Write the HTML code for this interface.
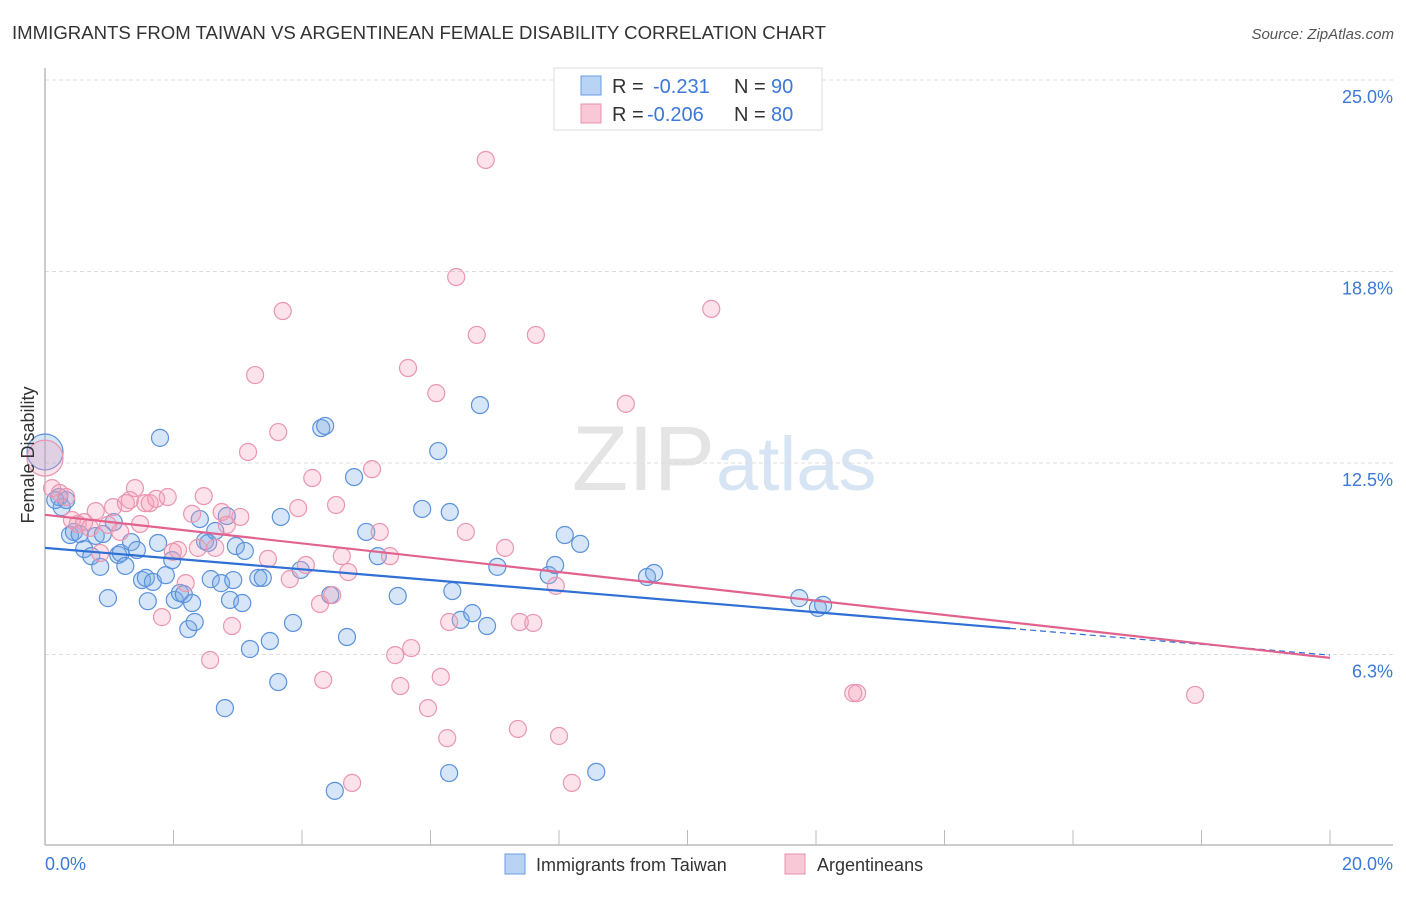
<!DOCTYPE html>
<html><head><meta charset="utf-8"><style>
body{margin:0;background:#fff;font-family:"Liberation Sans",sans-serif;}
svg text{font-family:"Liberation Sans",sans-serif;}
</style></head><body>
<svg width="1406" height="892" id="chart" xmlns="http://www.w3.org/2000/svg">
<text x="12" y="39" font-size="18" fill="#333" textLength="814" lengthAdjust="spacingAndGlyphs">IMMIGRANTS FROM TAIWAN VS ARGENTINEAN FEMALE DISABILITY CORRELATION CHART</text>
<text x="1394" y="39" font-size="15" fill="#555" font-style="italic" text-anchor="end">Source: ZipAtlas.com</text>
<text x="715" y="490" font-size="92" fill="#e4e4e4" text-anchor="end" font-family="Liberation Serif">ZIP</text>
<text x="716" y="490" font-size="76" fill="#d6e4f3">atlas</text>
<g id="grid"></g>
<g id="axes"></g>
<g id="pts"></g>
<g id="trends"></g>
<text transform="translate(34,455) rotate(-90)" font-size="18" fill="#333" text-anchor="middle">Female Disability</text>
<g>
<rect x="554" y="68" width="268" height="62" fill="#fff" stroke="#ddd"/>
<rect x="581" y="76" width="20" height="19" fill="#b8d3f4" stroke="#6a9de0"/>
<rect x="581" y="104" width="20" height="19" fill="#f8c8d6" stroke="#e890aa"/>
<text x="612" y="93" font-size="20" fill="#333">R =</text>
<text x="653" y="93" font-size="20" fill="#3b78d8">-0.231</text>
<text x="734" y="93" font-size="20" fill="#333">N =</text>
<text x="771" y="93" font-size="20" fill="#3b78d8">90</text>
<text x="612" y="121" font-size="20" fill="#333">R =</text>
<text x="647" y="121" font-size="20" fill="#3b78d8">-0.206</text>
<text x="734" y="121" font-size="20" fill="#333">N =</text>
<text x="771" y="121" font-size="20" fill="#3b78d8">80</text>
</g>
<g>
<rect x="505" y="854" width="20" height="20" fill="#b8d3f4" stroke="#6a9de0"/>
<text x="536" y="871" font-size="18" fill="#333">Immigrants from Taiwan</text>
<rect x="785" y="854" width="20" height="20" fill="#f8c8d6" stroke="#e890aa"/>
<text x="817" y="871" font-size="18" fill="#333">Argentineans</text>
</g>
</svg>
<script>
const yTicks=[25.0,18.75,12.5,6.25];
const yTickLabels=["25.0%","18.8%","12.5%","6.3%"];
const xTickLabels=["0.0%","20.0%"];
const blueX=[0.00,0.22,0.26,0.33,0.39,0.45,0.54,0.61,0.72,0.79,0.86,0.90,0.98,1.07,1.14,1.18,1.25,1.34,1.43,1.51,1.57,1.68,1.60,1.76,1.79,1.88,1.98,2.02,2.10,2.16,2.23,2.29,2.33,2.41,2.49,2.54,2.58,2.65,2.74,2.83,2.88,2.93,2.97,3.07,3.11,3.19,2.80,3.32,3.39,3.50,3.63,3.67,3.86,3.98,4.30,4.36,4.44,4.51,4.70,4.81,5.00,5.18,5.49,5.87,6.12,6.30,6.34,6.47,6.65,6.88,6.77,6.29,7.04,7.84,7.94,8.09,8.33,8.58,9.37,9.48,11.74,12.03,12.11,0.16];
const blueY=[12.86,11.39,11.06,11.29,10.15,10.25,10.18,9.69,9.46,10.12,9.11,10.18,8.09,10.57,9.50,9.56,9.14,9.92,9.66,8.68,8.75,8.62,7.99,9.89,13.32,8.84,9.33,8.03,8.26,8.22,7.08,7.93,7.31,10.67,9.95,9.89,8.71,10.28,8.58,10.77,8.03,8.68,9.79,7.93,9.63,6.43,4.50,8.75,8.75,6.69,5.35,10.74,7.28,9.01,13.64,13.71,8.19,1.80,6.82,12.04,10.25,9.46,8.16,11.00,12.89,10.90,8.32,7.38,7.60,7.18,14.39,2.38,9.11,8.84,9.17,10.15,9.86,2.42,8.78,8.91,8.09,7.77,7.87,11.29];
const pinkX=[0.00,0.11,0.23,0.33,0.42,0.51,0.61,0.70,0.79,0.86,0.98,1.06,1.17,1.26,1.32,1.40,1.48,1.56,1.63,1.73,1.82,1.91,1.99,2.07,2.19,2.29,2.38,2.47,2.57,2.65,2.75,2.83,2.91,3.04,3.16,3.27,3.47,3.63,3.70,3.81,3.94,4.06,4.16,4.28,4.33,4.47,4.53,4.62,4.72,4.78,5.09,5.21,5.37,5.45,5.53,5.65,5.70,5.96,6.09,6.16,6.26,6.29,6.40,6.55,6.72,6.86,7.16,7.36,7.39,7.60,7.64,7.95,8.00,8.20,9.04,10.37,12.58,12.64,17.90];
const pinkY=[12.66,11.68,11.52,11.39,10.64,10.51,10.57,10.38,10.93,9.56,10.48,11.06,10.25,11.19,11.29,11.68,10.51,11.19,11.19,11.33,7.47,11.39,9.60,9.66,8.58,10.84,9.73,11.42,6.07,9.73,10.90,10.48,7.18,10.74,12.86,15.37,9.37,13.51,17.46,8.71,11.03,9.17,12.01,7.90,5.42,8.19,11.13,9.46,8.94,2.06,12.30,10.25,9.46,6.23,5.22,15.60,6.46,4.50,14.78,5.52,3.52,7.31,18.57,10.25,16.68,22.39,9.73,3.82,7.31,7.28,16.68,8.49,3.59,2.06,14.43,17.53,4.99,4.99,4.93];
const blueTrend=[9.73,6.23];
const pinkTrend=[10.81,6.14];
const NS="http://www.w3.org/2000/svg";
function X(p){return 45+p*64.25;}
function Y(v){return 463-(v-12.5)*30.64;}
function mk(tag,attrs,parent){const e=document.createElementNS(NS,tag);for(const k in attrs)e.setAttribute(k,attrs[k]);document.getElementById(parent).appendChild(e);return e;}
yTicks.forEach((t,i)=>{
 const l=mk('line',{x1:45,x2:1393,y1:Y(t),y2:Y(t),stroke:'#ddd','stroke-dasharray':'4,3'},'grid');
 
 
 const tx=mk('text',{x:1393,y:Y(t)+23,'font-size':18,fill:'#3b78d8','text-anchor':'end'},'grid');
 tx.textContent=yTickLabels[i];
 
 
});
const ax=mk('line',{x1:45,x2:45,y1:68,y2:845,stroke:'#bbb','stroke-width':1.5},'axes');


const bx=mk('line',{x1:45,x2:1393,y1:845,y2:845,stroke:'#bbb','stroke-width':1.5},'axes');


for(let i=0;i<=10;i++){const t=mk('line',{x1:X(i*2),x2:X(i*2),y1:830,y2:845,stroke:'#bbb'},'axes');
 
 }
[[0,'start',45],[20,'end',1393]].forEach((d,i)=>{const t=mk('text',{x:d[2],y:870,'font-size':18,fill:'#3b78d8','text-anchor':d[1]},'axes');t.textContent=xTickLabels[i];
 
 });
blueX.forEach((p,i)=>{const c=mk('circle',{cx:X(p),cy:Y(blueY[i]),r:i==0?18:8.5,fill:'rgba(120,170,230,0.3)',stroke:'#5b92db','stroke-width':1.2},'pts');
 
 });
pinkX.forEach((p,i)=>{const c=mk('circle',{cx:X(p),cy:Y(pinkY[i]),r:i==0?18:8.5,fill:'rgba(245,160,185,0.3)',stroke:'#ea96b0','stroke-width':1.2},'pts');
 
 });
const bAt=p=>blueTrend[0]+(blueTrend[1]-blueTrend[0])*p/20;
const b1=mk('line',{x1:X(0),y1:Y(bAt(0)),x2:X(15.02),y2:Y(bAt(15.02)),stroke:'#2f6fd6','stroke-width':2.2},'trends');


const b2=mk('line',{x1:X(15.02),y1:Y(bAt(15.02)),x2:X(20),y2:Y(bAt(20)),stroke:'#2f6fd6','stroke-width':1.2,'stroke-dasharray':'6,4'},'trends');


const p1=mk('line',{x1:X(0),y1:Y(pinkTrend[0]),x2:X(20),y2:Y(pinkTrend[1]),stroke:'#e2628e','stroke-width':2.2},'trends');


</script>
</body></html>
